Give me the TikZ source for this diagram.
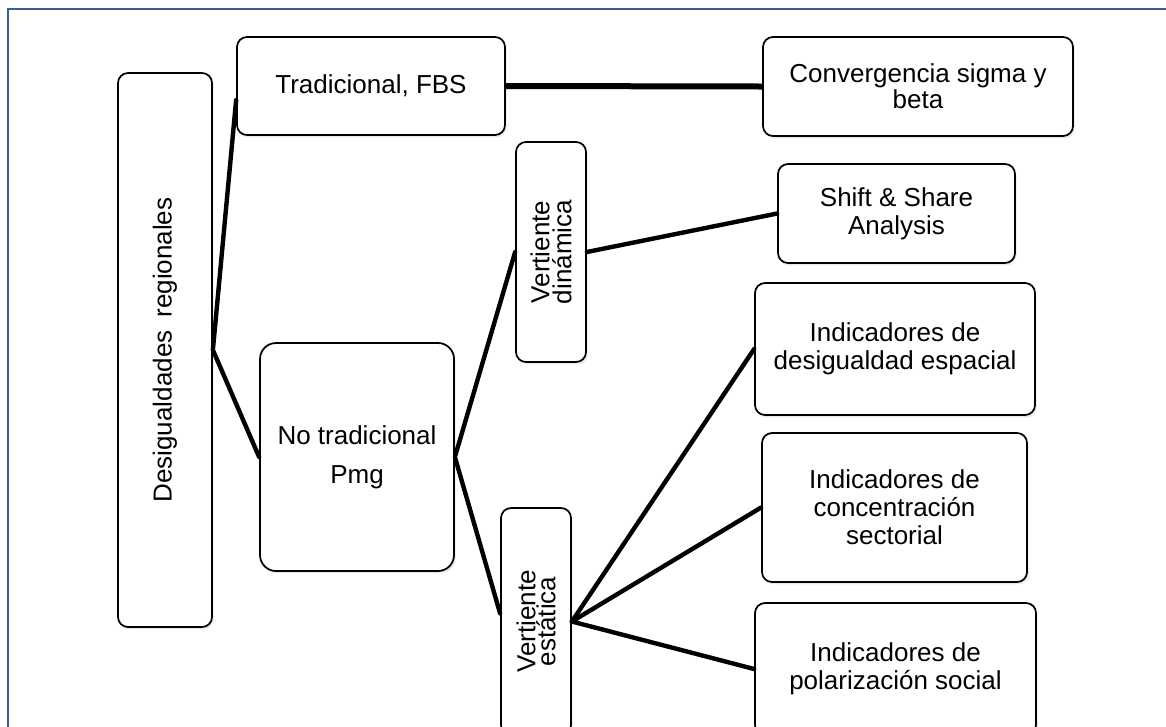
\documentclass[tikz,border=0pt]{standalone}
\usepackage{fontspec}
\usepackage{graphicx}
\setmainfont{Liberation Sans}
\usetikzlibrary{calc,shadows}
\definecolor{frameblue}{RGB}{54,95,145}
\begin{document}
\begin{tikzpicture}[x=0.75pt,y=-0.75pt,
  box/.style={draw=black, line width=1.3pt, rounded corners=7.5pt, fill=white,
    align=center, inner sep=0pt,
    font=\fontsize{19.5}{21}\selectfont,
    drop shadow={opacity=0.18, shadow xshift=1.2pt, shadow yshift=-1.8pt}},
  link/.style={line width=3.3pt, line cap=round, line join=round},
  thicklink/.style={line width=4.5pt}]
\fill[white] (0,0) rectangle (1166,726);
\useasboundingbox (0,0) rectangle (1166,726);
\draw[frameblue, line width=1.5pt] (7.5,740) -- (7.5,8.5) -- (1180,8.5);

\node[box, minimum width=70.5pt, minimum height=415.5pt] (des) at (165,350)
  {\rotatebox{90}{Desigualdades\hspace{0.5em}regionales}};
\node[box, minimum width=201pt, minimum height=73.5pt] (trad) at (371,86)
  {Tradicional, FBS};
\node[box, minimum width=232.5pt, minimum height=74.25pt,
  font=\fontsize{19.5}{19.5}\selectfont] (conv) at (918,86.5)
  {Convergencia sigma y\\beta};
\node[box, minimum width=52.5pt, minimum height=165pt] (vdin) at (551,252)
  {\rotatebox{90}{\parbox{90pt}{\centering\fontsize{19.5}{16.5}\selectfont Vertiente\\din\'amica}}};
\node[box, minimum width=177.75pt, minimum height=74.25pt] (shift) at (896.5,213.5)
  {Shift \& Share\\Analysis};
\node[box, minimum width=210pt, minimum height=99pt] (idesig) at (895,349)
  {Indicadores de\\desigualdad espacial};
\node[box, rounded corners=12pt, minimum width=145.5pt, minimum height=171pt,
  font=\fontsize{19.5}{29}\selectfont] (notrad) at (357,457)
  {No tradicional\\Pmg};
\node[box, minimum width=198.75pt, minimum height=111.75pt] (iconc) at (894.5,507.5)
  {Indicadores de\\concentraci\'on\\sectorial};
\node[box, minimum width=52.5pt, minimum height=170.25pt] (vest) at (536,621.5)
  {\rotatebox{90}{\parbox{90pt}{\centering\fontsize{19.5}{15}\selectfont Vertiente\\est\'atica}}};
\node[box, minimum width=210.75pt, minimum height=99pt] (ipol) at (895.5,669)
  {Indicadores de\\polarizaci\'on social};

\draw[link] ($(trad.west)+(0,14)$) -- (des.east) -- (notrad.west);
\draw[thicklink] (trad.east) -- (conv.west);
\draw[link] (vdin.west) -- (notrad.east) -- ($(vest.west)+(0,-8)$);
\draw[link] (vdin.east) -- (shift.west);
\draw[link] (idesig.west) -- (vest.east);
\draw[link] (iconc.west) -- (vest.east);
\draw[link] (ipol.west) -- (vest.east);
\end{tikzpicture}
\end{document}
